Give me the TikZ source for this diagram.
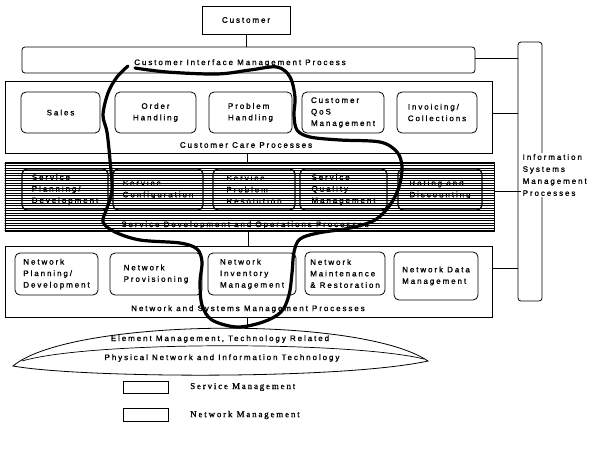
\documentclass[tikz,border=0pt]{standalone}
\usepackage{fontspec}
\setmainfont{Liberation Sans}[LetterSpace=24, FakeBold=1.2]
\newfontfamily\legendfont{Liberation Serif}[LetterSpace=20, FakeBold=1]
\begin{document}
\begin{tikzpicture}[x=1pt,y=-1pt,
  every node/.style={font=\fontsize{8}{11.5}\selectfont, inner sep=0pt},
  outer/.style={draw, line width=0.8pt},
  ibox/.style={draw, rounded corners=5pt, line width=0.8pt, align=left},
  hbox/.style={draw, rounded corners=5pt, line width=1.3pt, align=left},
  conn/.style={line width=0.8pt},
  loop/.style={line width=3.2pt, line cap=round, line join=round}]
\useasboundingbox (0,0) rectangle (596,459);

% top
\node[outer, minimum width=88pt, minimum height=28pt] (cust) at (246,20) {Customer};
\node[outer, rounded corners=3pt, minimum width=453pt, minimum height=26pt] (cim) at (248.5,60) {};
\node (ciml) at (240,63) {Customer Interface Management Process};

% information systems
\node[outer, rounded corners=3pt, minimum width=24pt, minimum height=259pt] (ism) at (530,171.5) {};
\node[fill=white, inner sep=1.5pt, align=left, anchor=west, font=\fontsize{8}{12}\selectfont] (isml) at (521,175) {Information\\Systems\\Management\\Processes};

% customer care
\node[outer, minimum width=487pt, minimum height=72pt] (cc) at (248.5,117) {};
\node (ccl) at (246,145) {Customer Care Processes};
\node[ibox, align=center, minimum width=79pt, minimum height=41pt] (sales) at (60.5,112.5) {Sales};
\node[ibox, align=center, minimum width=81pt, minimum height=41pt] (order) at (155.5,112.5) {Order\\Handling};
\node[ibox, minimum width=83pt, minimum height=41pt] (problem) at (250.5,112.5) {Problem\\Handling};
\node[ibox, minimum width=82pt, minimum height=41pt] (qos) at (343,112.5) {Customer\\QoS\\Management};
\node[ibox, minimum width=80pt, minimum height=41pt] (inv) at (437,112.5) {Invoicing/\\Collections};

% service development band
\node[outer, minimum width=489pt, minimum height=69pt] (band) at (249.5,196.5) {};
\begin{scope}
  \clip (band.north west) rectangle (band.south east);
  \foreach \k in {0,...,27}
    \draw[line width=1.05pt] (0,163.2+2.5*\k) -- (600,163.2+2.5*\k);
\end{scope}
\node[hbox, minimum width=86pt, minimum height=41pt] (spd) at (65,189.5) {Service\\Planning/\\Development};
\node[hbox, minimum width=90pt, minimum height=41pt] (scfg) at (158,189.5) {Service\\Configuration};
\node[hbox, minimum width=82pt, minimum height=41pt] (spr) at (254,189.5) {Service\\Problem\\Resolution};
\node[hbox, minimum width=87pt, minimum height=41pt] (sqm) at (343.5,189.5) {Service\\Quality\\Management};
\node[hbox, minimum width=84pt, minimum height=41pt] (rate) at (440,189.5) {Rating and\\Discounting};
\node (bandl) at (245,225) {Service Development and Operations Processes};

% network and systems
\node[outer, minimum width=487pt, minimum height=71pt] (nsm) at (248.5,281.5) {};
\node (nsml) at (248,309) {Network and Systems Management Processes};
\node[ibox, minimum width=83pt, minimum height=42pt] (npd) at (56.5,274) {Network\\Planning/\\Development};
\node[ibox, minimum width=92pt, minimum height=42pt] (nprov) at (156,274) {Network\\Provisioning};
\node[ibox, minimum width=88pt, minimum height=42pt] (ninv) at (252,274) {Network\\Inventory\\Management};
\node[ibox, minimum width=80pt, minimum height=43pt] (nmr) at (345,273.5) {Network\\Maintenance\\\& Restoration};
\node[ibox, minimum width=84pt, minimum height=48pt] (ndm) at (436,276) {Network Data\\Management};

% lens
\draw[line width=0.8pt] (13,366) .. controls (70,318) and (360,315) .. (428,361)
  .. controls (340,380) and (80,378) .. (13,366) -- cycle;
\draw[line width=0.7pt] (22,361) .. controls (90,341) and (350,341) .. (424,359);
\coordinate (lenstop) at (247,329);
\node (eml) at (220,339) {Element Management, Technology Related};
\node (pnit) at (222,358) {Physical Network and Information Technology};

% connectors
\draw[conn] (cust.south) -- (cust.south |- cim.north);
\draw[conn] ([xshift=-1.5pt]cc.south) -- ([xshift=-1.5pt]cc.south |- band.north);
\draw[conn] ([xshift=-1.5pt]band.south) -- ([xshift=-1.5pt]band.south |- nsm.north);
\draw[conn] (nsm.south -| lenstop) -- (lenstop);
\draw[conn] ([yshift=2pt]cim.east) -- ([yshift=2pt]cim.east -| ism.west);
\draw[conn] ([yshift=4pt]cc.east) -- ([yshift=4pt]cc.east -| ism.west);
\draw[conn] ([yshift=5.5pt]band.east) -- ([yshift=5.5pt]band.east -| isml.west);
\draw[conn] ([yshift=13.5pt]nsm.east) -- ([yshift=13.5pt]nsm.east -| ism.west);

% hand-drawn loop
\draw[loop] plot[smooth, tension=0.55] coordinates {
  (135,68) (167,72) (217,74) (250,70) (277,67) (290,77) (295,97) (294,115)
  (297,130) (310,137) (340,140) (380,142) (397,152) (402,167) (399,187)
  (390,205) (375,220) (350,228) (318,233) (300,239) (294,252) (292,273)
  (289,295) (281,312) (263,322) (237,327) (212,320) (202,305) (200,282)
  (202,262) (197,249) (180,243) (140,240) (115,232) (103,222) (107,208)
  (112,190) (110,160) (107,132) (103,115) (108,93) (117,77) (128,66)};

% legend
\node[draw, line width=0.7pt, minimum width=45pt, minimum height=12pt] (leg1) at (145.5,387) {};
\node[draw, line width=0.7pt, minimum width=45pt, minimum height=13pt] (leg2) at (145.5,414.5) {};
\node[anchor=west, font=\legendfont\fontsize{9}{11}\selectfont] (leg1t) at (190,387) {Service Management};
\node[anchor=west, font=\legendfont\fontsize{9}{11}\selectfont] (leg2t) at (190,415) {Network Management};
\end{tikzpicture}
\end{document}
